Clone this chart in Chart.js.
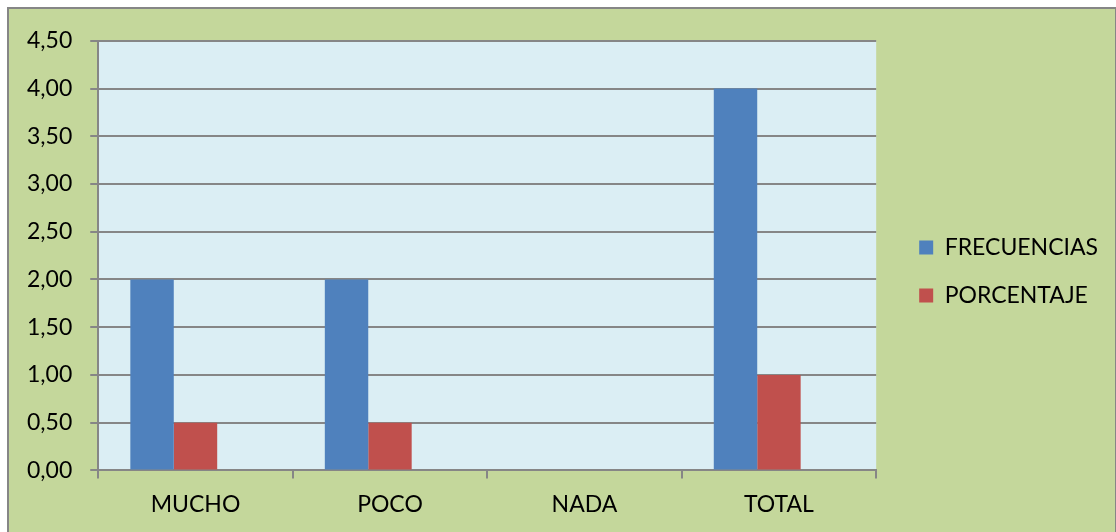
<!DOCTYPE html>
<html>
<head>
<meta charset="utf-8">
<script src="https://cdn.jsdelivr.net/npm/chart.js@4"></script>
<style>
  html, body { margin: 0; padding: 0; background: #fff; overflow: hidden; }
  #box {
    position: absolute; left: 7px; top: 7px;
    width: 1110px; height: 545px;
    box-sizing: border-box;
    border: 2px solid #868686;
    background: #c4d79b;
  }
</style>
</head>
<body>
<div id="box"><canvas id="chart"></canvas></div>
<script>
// categorias y valores
const categorias = ["MUCHO", "POCO", "NADA", "TOTAL"];
const frecuencias = [2, 2, 0, 4];
const porcentaje = [0.5, 0.5, 0, 1];
// serie vacia que Excel deja en el grupo (no sale en la leyenda)
const serieVacia = [null, null, null, null];

const fondoArea = {
  id: "fondoArea",
  beforeDraw(chart) {
    const { ctx, chartArea: a } = chart;
    ctx.save();
    ctx.fillStyle = "#dbeef4";
    ctx.fillRect(a.left, a.top, a.right - a.left, a.bottom - a.top);
    ctx.restore();
  }
};

// mover la leyenda un poco a la derecha, como en Excel
const moverLeyenda = {
  id: "moverLeyenda",
  afterLayout(chart) {
    const lg = chart.legend;
    if (!lg) return;
    lg.left += 18;
    lg.right += 18;
    lg.top -= 5;
    lg.bottom -= 5;
  }
};

const fuente = { family: "Lato, 'Liberation Sans', sans-serif", size: 23 };

new Chart(document.getElementById("chart"), {
  type: "bar",
  data: {
    labels: categorias,
    datasets: [
      { label: "FRECUENCIAS", data: frecuencias, backgroundColor: "#4f81bd" },
      { label: "PORCENTAJE", data: porcentaje, backgroundColor: "#c0504d" },
      { label: "", data: serieVacia, backgroundColor: "#9bbb59" }
    ]
  },
  options: {
    responsive: true,
    maintainAspectRatio: false,
    animation: false,
    layout: { padding: { top: 14, left: 0, right: 25, bottom: 20 } },
    datasets: { bar: { categoryPercentage: 0.67, barPercentage: 1 } },
    plugins: {
      tooltip: { enabled: false },
      legend: {
        position: "right",
        labels: {
          font: fuente,
          color: "#000",
          boxWidth: 14,
          boxHeight: 14,
          padding: 25,
          filter: (item) => item.text !== ""
        }
      }
    },
    scales: {
      x: {
        grid: { drawOnChartArea: false, color: "#868686", lineWidth: 2, tickLength: 8 },
        border: { color: "#868686", width: 2 },
        ticks: { font: fuente, color: "#000", padding: 12 }
      },
      y: {
        min: 0,
        max: 4.5,
        ticks: {
          stepSize: 0.5,
          font: fuente,
          color: "#000",
          padding: 18,
          callback: (v) => v.toFixed(2).replace(".", ",")
        },
        grid: { color: "#868686", lineWidth: 2, tickLength: 8 },
        border: { color: "#868686", width: 2 }
      }
    }
  },
  plugins: [fondoArea, moverLeyenda]
});
</script>
</body>
</html>
